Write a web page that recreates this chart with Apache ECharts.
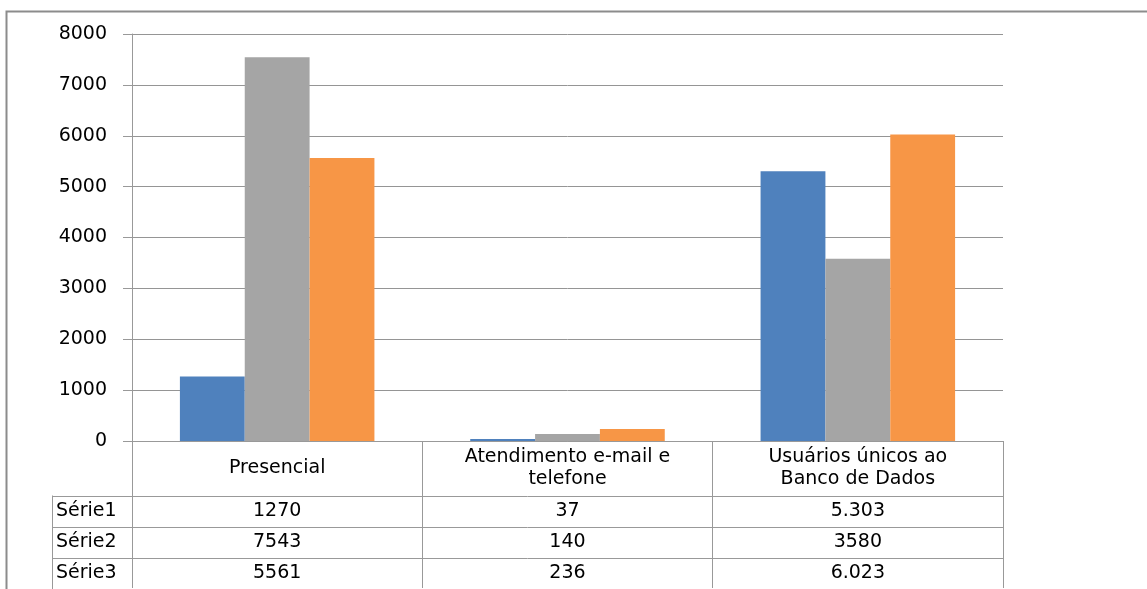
<!DOCTYPE html>
<html><head><meta charset="utf-8">
<script src="https://cdn.jsdelivr.net/npm/echarts@6/dist/echarts.min.js"></script>
<style>html,body{margin:0;padding:0;background:#fff}#c{width:1147px;height:589px}</style>
</head><body><div id="c"></div>
<script>
const categories = ['Presencial', 'Atendimento e-mail e\ntelefone', 'Usuários únicos ao\nBanco de Dados'];
const seriesNames = ['Série1', 'Série2', 'Série3'];
const serie1 = [1270, 37, 5303];
const serie2 = [7543, 140, 3580];
const serie3 = [5561, 236, 6023];
const tableText1 = ['1270', '37', '5.303'];
const tableText2 = ['7543', '140', '3580'];
const tableText3 = ['5561', '236', '6.023'];
const colors = ['#4F81BD', '#A5A5A5', '#F79646'];

const FONT = 'DejaVu Sans';
const FS = 19;
const TXT = '#000';
const chart = echarts.init(document.getElementById('c'), null, {renderer: 'canvas'});
const gridL = 132, gridR = 144, gridT = 34, gridB = 148;
chart.setOption({
  animation: false,
  grid: {left: gridL, right: gridR, top: gridT, bottom: gridB, containLabel: false},
  xAxis: {
    type: 'category', data: categories,
    axisLine: {show: true, lineStyle: {color: '#999', width: 1}},
    axisTick: {show: true, length: 147, lineStyle: {color: '#999', width: 1}},
    axisLabel: {margin: 27, verticalAlign: 'middle', lineHeight: 22, color: TXT, fontFamily: FONT, fontSize: FS, interval: 0}
  },
  yAxis: {
    type: 'value', min: 0, max: 8000, interval: 1000,
    axisLine: {show: true, lineStyle: {color: '#999', width: 1}},
    axisTick: {show: true, length: 9, lineStyle: {color: '#999'}},
    splitLine: {lineStyle: {color: '#959595', width: 1}},
    axisLabel: {margin: 25, color: TXT, fontFamily: FONT, fontSize: FS, formatter: v => String(v)}
  },
  series: [
    {name: seriesNames[0], type: 'bar', data: serie1, itemStyle: {color: colors[0]}, barGap: '0%', barCategoryGap: '33%'},
    {name: seriesNames[1], type: 'bar', data: serie2, itemStyle: {color: colors[1]}, barGap: '0%', barCategoryGap: '33%'},
    {name: seriesNames[2], type: 'bar', data: serie3, itemStyle: {color: colors[2]}, barGap: '0%', barCategoryGap: '33%'}
  ]
});

// Data table below the chart
const rows = [tableText1, tableText2, tableText3];
const x0 = chart.convertToPixel({xAxisIndex: 0}, 0);
const step = chart.convertToPixel({xAxisIndex: 0}, 1) - x0;
const axisY = chart.convertToPixel({yAxisIndex: 0}, 0);
const leftEdge = x0 - step / 2;
const rightEdge = leftEdge + step * categories.length;
const headerH = 54.5, rowH = 31;
const labelColLeft = 52;
const g = [];
// frame
g.push({type: 'polyline', shape: {points: [[6.5, 589], [6.5, 11.5], [1147, 11.5]]}, style: {stroke: '#8C8C8C', lineWidth: 2, fill: null}});
for (let r = 0; r < rows.length + 1; r++) {
  const y = Math.round(axisY + headerH + r * rowH) + 0.5;
  g.push({type: 'line', shape: {x1: labelColLeft, y1: y, x2: rightEdge, y2: y}, style: {stroke: '#999', lineWidth: 1}});
}
g.push({type: 'line', shape: {x1: labelColLeft + 0.5, y1: axisY + headerH, x2: labelColLeft + 0.5, y2: 589}, style: {stroke: '#999', lineWidth: 1}});
for (let r = 0; r < rows.length; r++) {
  const cy = axisY + headerH + r * rowH + rowH / 2;
  g.push({type: 'text', x: labelColLeft + 4, y: cy, style: {text: seriesNames[r], fill: TXT, font: FS + 'px "' + FONT + '"', align: 'left', verticalAlign: 'middle'}});
  for (let c = 0; c < categories.length; c++) {
    const cx = chart.convertToPixel({xAxisIndex: 0}, c);
    g.push({type: 'text', x: cx, y: cy, style: {text: rows[r][c], fill: TXT, font: FS + 'px "' + FONT + '"', align: 'center', verticalAlign: 'middle'}});
  }
}
chart.setOption({graphic: g});
</script></body></html>
